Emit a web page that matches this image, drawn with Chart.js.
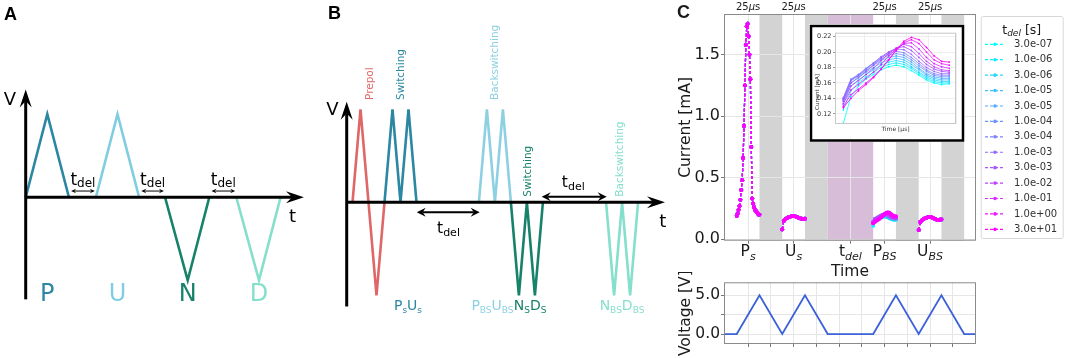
<!DOCTYPE html>
<html>
<head>
<meta charset="utf-8">
<script src="https://cdn.jsdelivr.net/npm/chart.js"></script>
<style>
body { margin: 0; background: #fff; }
#wrap { position: relative; width: 1065px; height: 358px; overflow: hidden; background: #fff; }
canvas { position: absolute; }
</style>
</head>
<body>
<div id="wrap">
  <canvas id="cA" width="320" height="358" style="left:0px;top:0px"></canvas>
  <canvas id="cB" width="352" height="358" style="left:320px;top:0px"></canvas>
  <canvas id="cMain" width="405" height="280" style="left:660px;top:0px"></canvas>
  <canvas id="cVolt" width="316" height="86" style="left:660px;top:272px"></canvas>
  <canvas id="cInset" width="156" height="118" style="left:809px;top:24px"></canvas>
</div>
<script>
// ---- panel A : PUND sketch (arbitrary time units, normalised voltage)
const pundNames = ['P', 'U', 'N', 'D'];
const pundTimes = [[0, 1, 2], [3.25, 4.25, 5.25], [6.45, 7.5, 8.5], [9.75, 10.8, 11.8]];
const pundLevels = [[0, 1, 0], [0, 1, 0], [0, -1, 0], [0, -1, 0]];
const pundColors = ['#2c87a3', '#80cde1', '#17826a', '#84dfcb'];

// ---- panel B : prepol + switching / backswitching sketch
const seqNames = ['Prepol', 'Switching', 'Backswitching', 'Switching', 'Backswitching'];
const seqTimes = [[0, 1, 3, 4], [4, 5, 6, 7, 8], [15.8, 16.8, 17.8, 18.8, 19.8],
                  [19.8, 20.8, 21.8, 22.8, 23.8], [31.7, 32.7, 33.7, 34.7, 35.7]];
const seqLevels = [[0, 1, -1, 0], [0, 1, 0, 1, 0], [0, 1, 0, 1, 0], [0, -1, 0, -1, 0], [0, -1, 0, -1, 0]];
const seqColors = ['#e06767', '#2c87a3', '#8dd0e2', '#17826a', '#84dfcb'];

// ---- panel C : measured currents (mA) vs time (us)
const delayLabels = ['3.0e-07', '1.0e-06', '3.0e-06', '1.0e-05', '3.0e-05', '1.0e-04', '3.0e-04',
                     '1.0e-03', '3.0e-03', '1.0e-02', '1.0e-01', '1.0e+00', '3.0e+01'];
const pulseStarts = [0, 50, 150, 200];
const psTimes = [0, 1, 2, 3, 4, 5, 6, 7, 8, 9, 10, 11, 12, 13, 14, 15, 16, 17, 18, 19, 20, 21, 22, 23, 24, 25];
const psCurrent = [0.19, 0.21, 0.24, 0.27, 0.32, 0.40, 0.48, 0.66, 0.92, 1.25, 1.58, 1.73, 1.75, 1.65,
                   1.50, 1.30, 0.75, 0.33, 0.29, 0.26, 0.24, 0.23, 0.22, 0.21, 0.20, 0.20];
const pulseTimes = [0, 1.79, 3.57, 5.36, 7.14, 8.93, 10.71, 12.5, 14.29, 16.07, 17.86, 19.64, 21.43, 23.21, 25];
const usCurrent = [0.080, 0.150, 0.163, 0.172, 0.179, 0.184, 0.187, 0.188, 0.186, 0.181, 0.175, 0.170, 0.167, 0.166, 0.167];
const ubsCurrent = [0.075, 0.140, 0.153, 0.163, 0.171, 0.176, 0.179, 0.180, 0.178, 0.172, 0.165, 0.160, 0.158, 0.159, 0.161];
const pbsCurrent = [
  [0.108, 0.142, 0.156, 0.165, 0.171, 0.177, 0.181, 0.183, 0.181, 0.176, 0.170, 0.164, 0.160, 0.158, 0.159],
  [0.125, 0.150, 0.160, 0.168, 0.174, 0.180, 0.184, 0.186, 0.184, 0.179, 0.172, 0.166, 0.162, 0.160, 0.160],
  [0.133, 0.156, 0.164, 0.171, 0.177, 0.183, 0.187, 0.189, 0.187, 0.181, 0.174, 0.168, 0.164, 0.162, 0.162],
  [0.137, 0.160, 0.167, 0.174, 0.180, 0.186, 0.190, 0.192, 0.190, 0.184, 0.177, 0.170, 0.166, 0.164, 0.164],
  [0.139, 0.163, 0.169, 0.176, 0.183, 0.189, 0.193, 0.195, 0.193, 0.187, 0.179, 0.172, 0.168, 0.166, 0.166],
  [0.140, 0.164, 0.170, 0.178, 0.185, 0.191, 0.196, 0.198, 0.196, 0.190, 0.182, 0.175, 0.170, 0.168, 0.168],
  [0.141, 0.165, 0.171, 0.179, 0.186, 0.193, 0.198, 0.201, 0.199, 0.193, 0.185, 0.177, 0.172, 0.170, 0.170],
  [0.140, 0.163, 0.170, 0.178, 0.186, 0.194, 0.200, 0.204, 0.203, 0.197, 0.188, 0.180, 0.175, 0.172, 0.172],
  [0.138, 0.160, 0.167, 0.175, 0.183, 0.192, 0.200, 0.205, 0.207, 0.202, 0.193, 0.184, 0.178, 0.175, 0.174],
  [0.136, 0.156, 0.163, 0.171, 0.179, 0.189, 0.198, 0.205, 0.210, 0.207, 0.198, 0.188, 0.181, 0.177, 0.176],
  [0.133, 0.151, 0.158, 0.166, 0.174, 0.184, 0.195, 0.204, 0.211, 0.212, 0.204, 0.193, 0.185, 0.181, 0.179],
  [0.130, 0.145, 0.152, 0.160, 0.168, 0.178, 0.190, 0.202, 0.212, 0.216, 0.211, 0.200, 0.190, 0.185, 0.183],
  [0.128, 0.140, 0.150, 0.158, 0.167, 0.178, 0.190, 0.203, 0.214, 0.219, 0.216, 0.206, 0.195, 0.188, 0.187]
];
const grayBands = [[25, 50], [75, 100], [175, 200], [225, 250]];
const delayBand = [100, 150];
const tickTimes = [12.5, 62.5, 125, 162.5, 212.5];
const tickNames = [['P', 's'], ['U', 's'], ['t', 'del'], ['P', 'BS'], ['U', 'BS']];
const topTickTimes = [12.5, 62.5, 162.5, 212.5];
const currentTicks = [0, 0.5, 1.0, 1.5];
const insetTicks = [0.12, 0.14, 0.16, 0.18, 0.20, 0.22];
const voltageTimes = [-14, 0, 25, 50, 75, 100, 150, 175, 200, 225, 250, 263];
const voltageValues = [0, 0, 5, 0, 5, 0, 0, 5, 0, 5, 0, 0];
const voltGridTimes = [12.5, 37.5, 62.5, 87.5, 112.5, 137.5, 162.5, 187.5, 212.5, 237.5];
const voltTicks = [0, 2.5, 5];

// cool colormap, one per delay
const cool = ['#00ffff', '#15eaff', '#2ad5ff', '#40bfff', '#55aaff', '#6a95ff', '#8080ff',
              '#956aff', '#aa55ff', '#bf40ff', '#d52aff', '#ea15ff', '#ff00ff'];

const DV = "'DejaVu Sans', 'Liberation Sans', sans-serif";
Chart.defaults.font.family = DV;

function textParts(ctx, list, x, y, align) {
  let w = 0;
  list.forEach(p => { ctx.font = p[1]; w += ctx.measureText(p[0]).width; });
  let cx = align === 'left' ? x : x - w / 2;
  ctx.textAlign = 'left';
  list.forEach(p => {
    ctx.font = p[1];
    if (p[3]) ctx.fillStyle = p[3];
    ctx.fillText(p[0], cx, y + (p[2] || 0));
    cx += ctx.measureText(p[0]).width;
  });
}

function arrowHead(ctx, x1, y1, x2, y2, len, half) {
  const a = Math.atan2(y2 - y1, x2 - x1);
  ctx.save();
  ctx.translate(x2, y2);
  ctx.rotate(a);
  ctx.beginPath();
  ctx.moveTo(0, 0);
  ctx.lineTo(-len, -half);
  ctx.lineTo(-len * 0.65, 0);
  ctx.lineTo(-len, half);
  ctx.closePath();
  ctx.fill();
  ctx.restore();
}

function arrow(ctx, x1, y1, x2, y2, lw, len, half, both) {
  const d = Math.hypot(x2 - x1, y2 - y1), ux = (x2 - x1) / d, uy = (y2 - y1) / d;
  const cut = len * 0.65;
  ctx.lineWidth = lw;
  ctx.beginPath();
  ctx.moveTo(both ? x1 + ux * cut : x1, both ? y1 + uy * cut : y1);
  ctx.lineTo(x2 - ux * cut, y2 - uy * cut);
  ctx.stroke();
  arrowHead(ctx, x1, y1, x2, y2, len, half);
  if (both) arrowHead(ctx, x2, y2, x1, y1, len, half);
}

function sketch(id, times, levels, colors, xr, yr, decor) {
  return new Chart(document.getElementById(id), {
    type: 'scatter',
    data: {
      datasets: times.map((ts, k) => ({
        data: ts.map((t, i) => ({x: t, y: levels[k][i]})),
        showLine: true,
        borderColor: colors[k],
        borderWidth: 2.6,
        borderJoinStyle: 'miter',
        pointRadius: 0,
        tension: 0
      }))
    },
    options: {
      animation: false, responsive: false, events: [],
      layout: {padding: 0},
      plugins: {legend: {display: false}, tooltip: {enabled: false}},
      scales: {
        x: {type: 'linear', display: false, min: xr[0], max: xr[1]},
        y: {display: false, min: yr[0], max: yr[1]}
      }
    },
    plugins: [decor]
  });
}

// ---------- panel A
const pundGaps = [[2.1, 3.2], [5.35, 6.4], [8.6, 9.7]];
const aDecor = {
  id: 'aDecor',
  afterDatasetsDraw(chart) {
    const ctx = chart.ctx;
    const X = v => chart.scales.x.getPixelForValue(v), Y = v => chart.scales.y.getPixelForValue(v);
    ctx.save();
    ctx.fillStyle = '#000';
    ctx.strokeStyle = '#000';
    arrow(ctx, X(0), Y(-1.23), X(0), Y(1.3), 3, 18, 6);
    arrow(ctx, X(0), Y(0), X(12.88), Y(0), 3, 18, 6);
    pundGaps.forEach(g => {
      ctx.fillStyle = '#000';
      arrow(ctx, X(g[0]), Y(0.075), X(g[1]), Y(0.075), 1, 5, 2.2, true);
      textParts(ctx, [['t', '17px ' + DV], ['del', '12px ' + DV, 2]], X((g[0] + g[1]) / 2), Y(0.148));
    });
    ctx.fillStyle = '#000';
    textParts(ctx, [['V', '18px ' + DV]], X(-0.73), Y(1.11));
    textParts(ctx, [['t', '18px ' + DV]], X(12.35), Y(-0.294));
    pundNames.forEach((n, k) => {
      textParts(ctx, [[n, '24px ' + DV, 0, pundColors[k]]], X(pundTimes[k][1]), Y(-1.25));
    });
    ctx.fillStyle = '#000';
    ctx.font = "bold 18px 'Liberation Sans', sans-serif";
    ctx.fillText('A', 4, 20);
    ctx.restore();
  }
};
sketch('cA', pundTimes, pundLevels, pundColors, [-1.19, 13.625], [-1.937, 2.377], aDecor);

// ---------- panel B
const seqTags = [[2.19, 1.1], [6.1, 1.1], [17.8, 1.1], [21.98, 0.06], [33.44, 0.06]];
const bDecor = {
  id: 'bDecor',
  afterDatasetsDraw(chart) {
    const ctx = chart.ctx;
    const X = v => chart.scales.x.getPixelForValue(v), Y = v => chart.scales.y.getPixelForValue(v);
    ctx.save();
    ctx.fillStyle = '#000';
    ctx.strokeStyle = '#000';
    arrow(ctx, X(-0.725), Y(-1.12), X(-0.725), Y(1.08), 3, 18, 6);
    arrow(ctx, X(-0.725), Y(0), X(39.06), Y(0), 3, 18, 6);
    arrow(ctx, X(8.03), Y(-0.108), X(15.9), Y(-0.108), 2, 9, 4.5, true);
    arrow(ctx, X(23.65), Y(0.06), X(31.78), Y(0.06), 2, 9, 4.5, true);
    textParts(ctx, [['t', '15.5px ' + DV], ['del', '11px ' + DV, 3]], X(12.0), Y(-0.333));
    textParts(ctx, [['t', '15.5px ' + DV], ['del', '11px ' + DV, 3]], X(27.6), Y(0.161));
    textParts(ctx, [['V', '18px ' + DV]], X(-2.5), Y(0.94));
    textParts(ctx, [['t', '18px ' + DV]], X(38.8), Y(-0.266));
    seqNames.forEach((n, k) => {
      ctx.save();
      ctx.translate(X(seqTags[k][0]), Y(seqTags[k][1]));
      ctx.rotate(-Math.PI / 2);
      ctx.font = '10.5px ' + DV;
      ctx.fillStyle = seqColors[k];
      ctx.textAlign = 'left';
      ctx.textBaseline = 'middle';
      ctx.fillText(n, 0, 0);
      ctx.restore();
    });
    const big = '14px ' + DV, sub = '9px ' + DV, yb = Y(-1.158);
    textParts(ctx, [['P', big, 0, seqColors[1]], ['s', sub, 3], ['U', big], ['s', sub, 3]], X(6.94), yb);
    textParts(ctx, [['P', big, 0, seqColors[2]], ['BS', sub, 3], ['U', big], ['BS', sub, 3]], X(17.5), yb);
    textParts(ctx, [['N', big, 0, seqColors[3]], ['S', sub, 3], ['D', big], ['S', sub, 3]], X(22.2), yb);
    textParts(ctx, [['N', big, 0, seqColors[4]], ['BS', sub, 3], ['D', big], ['BS', sub, 3]], X(33.69), yb);
    ctx.fillStyle = '#000';
    ctx.font = "bold 18px 'Liberation Sans', sans-serif";
    ctx.fillText('B', 8, 18.5);
    ctx.restore();
  }
};
sketch('cB', seqTimes, seqLevels, seqColors, [-4.0625, 39.94], [-1.674, 2.175], bDecor);

// ---------- panel C main current plot
function currentPoints(i) {
  const parts = [[psTimes, psCurrent], [pulseTimes, usCurrent], [pulseTimes, pbsCurrent[i]], [pulseTimes, ubsCurrent]];
  const pts = [];
  parts.forEach((p, k) => {
    if (k) pts.push({x: pulseStarts[k] - 1, y: null});
    p[0].forEach((t, j) => pts.push({x: pulseStarts[k] + t, y: p[1][j]}));
  });
  return pts;
}

const mainDecor = {
  id: 'mainDecor',
  beforeDraw(chart) {
    const {ctx, chartArea: a} = chart, x = chart.scales.x;
    ctx.save();
    ctx.fillStyle = '#fff';
    ctx.fillRect(a.left, a.top, a.width, a.height);
    ctx.fillStyle = '#d3d3d3';
    grayBands.forEach(b => {
      const l = x.getPixelForValue(b[0]);
      ctx.fillRect(l, a.top, x.getPixelForValue(b[1]) - l, a.height);
    });
    ctx.fillStyle = '#d7bdd7';
    const l = x.getPixelForValue(delayBand[0]);
    ctx.fillRect(l, a.top, x.getPixelForValue(delayBand[1]) - l, a.height);
    ctx.restore();
  },
  afterDraw(chart) {
    const {ctx, chartArea: a} = chart, x = chart.scales.x;
    ctx.save();
    ctx.strokeStyle = '#8a8a8a';
    ctx.lineWidth = 1;
    ctx.strokeRect(a.left + 0.5, a.top + 0.5, a.width - 1, a.height - 1);
    ctx.fillStyle = '#1a1a1a';
    ctx.textBaseline = 'alphabetic';
    tickTimes.forEach((t, i) => {
      textParts(ctx, [[tickNames[i][0], '15.5px ' + DV], [tickNames[i][1], 'italic 11px ' + DV, 3.5]], x.getPixelForValue(t), 256);
    });
    topTickTimes.forEach(t => {
      textParts(ctx, [['25', '10px ' + DV], ['\u03bc', 'italic 10px ' + DV], ['s', '10px ' + DV]], x.getPixelForValue(t), 9.5);
    });
    textParts(ctx, [['Time', '15.5px ' + DV]], (a.left + a.right) / 2, 276);
    ctx.font = "bold 18px 'Liberation Sans', sans-serif";
    ctx.fillText('C', 17, 18.3);

    // legend
    const lx = 320.7, ly = 16;
    ctx.fillStyle = 'rgba(255,255,255,0.85)';
    ctx.strokeStyle = '#d8d8d8';
    ctx.beginPath();
    ctx.roundRect(lx + 0.5, ly + 0.5, 82, 222, 2);
    ctx.fill();
    ctx.stroke();
    ctx.fillStyle = '#1a1a1a';
    textParts(ctx, [['t', '12.5px ' + DV], ['del', 'italic 9px ' + DV, 2.5], [' [s]', '12.5px ' + DV]], 361.7, 33.5);
    delayLabels.forEach((lab, i) => {
      const yc = 44.3 + 15.42 * i;
      ctx.strokeStyle = cool[i];
      ctx.lineWidth = 1.2;
      ctx.setLineDash([3, 2]);
      ctx.beginPath();
      ctx.moveTo(325, yc);
      ctx.lineTo(345, yc);
      ctx.stroke();
      ctx.setLineDash([]);
      ctx.fillStyle = cool[i];
      ctx.beginPath();
      ctx.arc(335, yc, 1.8, 0, Math.PI * 2);
      ctx.fill();
      ctx.fillStyle = '#333';
      ctx.font = '10px ' + DV;
      ctx.textBaseline = 'middle';
      ctx.textAlign = 'left';
      ctx.fillText(lab, 354, yc);
      ctx.textBaseline = 'alphabetic';
    });
    ctx.restore();
  }
};

new Chart(document.getElementById('cMain'), {
  type: 'scatter',
  data: {
    datasets: delayLabels.map((lab, i) => ({
      label: lab,
      data: currentPoints(i),
      showLine: true,
      borderColor: cool[i],
      backgroundColor: cool[i],
      borderWidth: 1.2,
      borderDash: [3, 2],
      pointRadius: 1.9,
      pointBorderWidth: 0,
      pointBackgroundColor: cool[i],
      tension: 0,
      order: 12 - i
    }))
  },
  options: {
    animation: false, responsive: false, events: [],
    layout: {padding: {left: 0, top: 0, bottom: 0, right: 89}},
    plugins: {legend: {display: false}, tooltip: {enabled: false}},
    scales: {
      x: {
        type: 'linear', position: 'bottom', min: -14, max: 263,
        afterBuildTicks: s => { s.ticks = tickTimes.map(v => ({value: v})); },
        afterFit: s => { s.height = 39.3; },
        ticks: {display: false},
        grid: {color: '#e6e6e6', tickLength: 3, tickColor: '#777'},
        border: {display: false}
      },
      xTop: {
        type: 'linear', axis: 'x', position: 'top', min: -14, max: 263,
        afterFit: s => { s.height = 14; },
        ticks: {display: false},
        grid: {display: false},
        border: {display: false}
      },
      y: {
        min: -0.012, max: 1.83,
        afterBuildTicks: s => { s.ticks = currentTicks.map(v => ({value: v})); },
        afterFit: s => { s.width = 64; },
        ticks: {callback: v => v.toFixed(1), font: {size: 16}, color: '#1a1a1a', padding: 1},
        title: {display: true, text: 'Current [mA]', font: {size: 15.5}, color: '#1a1a1a', padding: {top: 17, bottom: 0}},
        grid: {color: '#e6e6e6', tickLength: 3, tickColor: '#777'},
        border: {display: false}
      }
    }
  },
  plugins: [mainDecor]
});

// ---------- panel C voltage plot
const voltDecor = {
  id: 'voltDecor',
  beforeDraw(chart) {
    const {ctx, chartArea: a} = chart;
    ctx.save();
    ctx.fillStyle = '#fff';
    ctx.fillRect(a.left, a.top, a.width, a.height);
    ctx.restore();
  },
  afterDraw(chart) {
    const {ctx, chartArea: a} = chart;
    ctx.save();
    ctx.strokeStyle = '#8a8a8a';
    ctx.lineWidth = 1;
    ctx.strokeRect(a.left + 0.5, a.top + 0.5, a.width - 1, a.height - 1);
    ctx.restore();
  }
};

new Chart(document.getElementById('cVolt'), {
  type: 'scatter',
  data: {
    datasets: [{
      data: voltageTimes.map((t, i) => ({x: t, y: voltageValues[i]})),
      showLine: true, borderColor: '#3b62d8', borderWidth: 1.8, pointRadius: 0, tension: 0
    }]
  },
  options: {
    animation: false, responsive: false, events: [],
    layout: {padding: {top: 10, right: 0, left: 0, bottom: 0}},
    plugins: {legend: {display: false}, tooltip: {enabled: false}},
    scales: {
      x: {
        type: 'linear', min: -14, max: 263,
        afterBuildTicks: s => { s.ticks = voltGridTimes.map(v => ({value: v})); },
        afterFit: s => { s.height = 14; },
        ticks: {display: false},
        grid: {color: '#e6e6e6', tickLength: 3, tickColor: '#777'},
        border: {display: false}
      },
      y: {
        min: -1.28, max: 6.67,
        afterBuildTicks: s => { s.ticks = voltTicks.map(v => ({value: v})); },
        afterFit: s => { s.width = 64; },
        ticks: {callback: v => (v === 2.5 ? '' : v.toFixed(1)), font: {size: 15.5}, color: '#1a1a1a', padding: 1},
        title: {display: true, text: 'Voltage [V]', font: {size: 15.5}, color: '#1a1a1a', padding: {top: 17, bottom: 0}},
        grid: {color: '#e6e6e6', tickLength: 3, tickColor: '#777'},
        border: {display: false}
      }
    }
  },
  plugins: [voltDecor]
});

// ---------- panel C inset (P_BS pulse)
const insetDecor = {
  id: 'insetDecor',
  beforeDraw(chart) {
    const ctx = chart.ctx;
    ctx.save();
    ctx.fillStyle = '#fff';
    ctx.fillRect(0, 0, chart.width, chart.height);
    ctx.restore();
  },
  afterDraw(chart) {
    const {ctx, chartArea: a} = chart;
    ctx.save();
    ctx.strokeStyle = '#c8c8c8';
    ctx.lineWidth = 1;
    ctx.strokeRect(a.left + 0.5, a.top + 0.5, a.width - 1, a.height - 1);
    ctx.strokeStyle = '#000';
    ctx.lineWidth = 2.5;
    ctx.strokeRect(2, 2, chart.width - 4, chart.height - 3.5);
    ctx.fillStyle = '#333';
    ctx.font = '6px ' + DV;
    ctx.textAlign = 'center';
    ctx.textBaseline = 'middle';
    ctx.fillText('Time [\u03bcs]', (a.left + a.right) / 2, 105.3);
    ctx.translate(9, 68);
    ctx.rotate(-Math.PI / 2);
    ctx.font = '5.5px ' + DV;
    ctx.fillText('Current [mA]', 0, 0);
    ctx.restore();
  }
};

new Chart(document.getElementById('cInset'), {
  type: 'scatter',
  data: {
    datasets: pbsCurrent.map((s, i) => ({
      data: pulseTimes.map((t, j) => ({x: t, y: s[j]})),
      showLine: true,
      borderColor: cool[i],
      borderWidth: 0.8,
      pointRadius: 0.9,
      pointBorderWidth: 0,
      pointBackgroundColor: cool[i],
      tension: 0,
      order: 12 - i
    }))
  },
  options: {
    animation: false, responsive: false, events: [],
    layout: {padding: {top: 8.7, right: 9, left: 0, bottom: 0}},
    plugins: {legend: {display: false}, tooltip: {enabled: false}},
    scales: {
      x: {
        type: 'linear', min: -1.96, max: 26.6,
        afterFit: s => { s.height = 18; },
        ticks: {display: false, stepSize: 5},
        grid: {color: '#eeeeee', drawTicks: false},
        border: {display: false}
      },
      y: {
        min: 0.107, max: 0.225,
        afterBuildTicks: s => { s.ticks = insetTicks.map(v => ({value: v})); },
        afterFit: s => { s.width = 26; },
        ticks: {callback: v => v.toFixed(2), font: {size: 6.5}, color: '#333', padding: 1.5},
        grid: {color: '#eeeeee', tickLength: 2, tickColor: '#999'},
        border: {display: false}
      }
    }
  },
  plugins: [insetDecor]
});
</script>
</body>
</html>
